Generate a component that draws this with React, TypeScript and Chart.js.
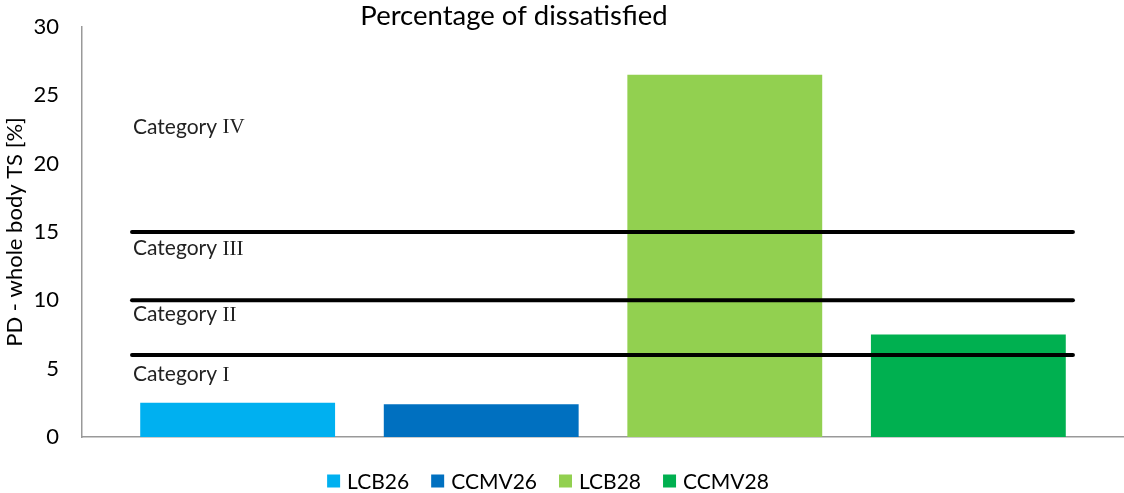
import React, { useEffect, useRef } from "react";
import { Chart, registerables } from "chart.js";

Chart.register(...registerables);

const categories = [""];
const seriesNames = ["LCB26", "CCMV26", "LCB28", "CCMV28"];
const seriesValues = [2.5, 2.4, 26.5, 7.5];
const seriesColors = ["#00B0F0", "#0070C0", "#92D050", "#00B050"];
const thresholdValues = [6, 10, 15];
const categoryWords = ["Category", "Category", "Category", "Category"];
const categoryNumerals = ["I", "II", "III", "IV"];
const categoryLabelValues = [4.6, 9.0, 13.8, 22.7];
const yTicks = [0, 5, 10, 15, 20, 25, 30];

const FONT = "Lato, 'Open Sans', sans-serif";
const SERIF = "'Liberation Serif', 'DejaVu Serif', serif";

const overlayPlugin = {
  id: "overlay",
  afterDatasetsDraw(chart: any) {
    const { ctx, chartArea, scales } = chart;
    const y = scales.y;
    const w = chartArea.right - chartArea.left;
    const x0 = chartArea.left + w * 0.048;
    const x1 = chartArea.left + w * 0.951;
    ctx.save();
    ctx.strokeStyle = "#000";
    ctx.lineWidth = 4;
    ctx.lineCap = "round";
    thresholdValues.forEach((v) => {
      const py = y.getPixelForValue(v);
      ctx.beginPath();
      ctx.moveTo(x0, py);
      ctx.lineTo(x1, py);
      ctx.stroke();
    });
    ctx.fillStyle = "#222";
    ctx.textAlign = "left";
    ctx.textBaseline = "middle";
    categoryWords.forEach((t, i) => {
      const py = y.getPixelForValue(categoryLabelValues[i]);
      ctx.font = `21px ${FONT}`;
      const word = t + " ";
      ctx.fillText(word, x0 + 1, py);
      const ww = ctx.measureText(word).width;
      ctx.font = `21px ${SERIF}`;
      ctx.fillText(categoryNumerals[i], x0 + 1 + ww, py + 1);
    });
    // title
    ctx.font = `27.5px ${FONT}`;
    ctx.textAlign = "center";
    ctx.fillStyle = "#000";
    ctx.fillText("Percentage of dissatisfied", 514, 16);

    // legend
    const box = 13;
    const gapBoxText = 7;
    const gapItems = 22;
    ctx.font = `21px ${FONT}`;
    ctx.textAlign = "left";
    const widths = seriesNames.map((n) => box + gapBoxText + ctx.measureText(n).width);
    const total = widths.reduce((a, b) => a + b, 0) + gapItems * (seriesNames.length - 1);
    let lx = 548 - total / 2;
    const ly = 481;
    seriesNames.forEach((n, i) => {
      ctx.fillStyle = seriesColors[i];
      ctx.fillRect(lx, ly - box / 2, box, box);
      ctx.fillStyle = "#000";
      ctx.fillText(n, lx + box + gapBoxText, ly + 1);
      lx += widths[i] + gapItems;
    });
    ctx.restore();
  },
};

export default function App() {
  const ref = useRef<HTMLCanvasElement | null>(null);
  useEffect(() => {
    if (!ref.current) return;
    const chart = new Chart(ref.current, {
      type: "bar",
      data: {
        labels: categories,
        datasets: seriesNames.map((n, i) => ({
          label: n,
          data: [seriesValues[i]],
          backgroundColor: seriesColors[i],
          borderWidth: 0,
          barPercentage: 0.8,
          categoryPercentage: 0.935,
        })),
      },
      options: {
        animation: false,
        responsive: true,
        maintainAspectRatio: false,
        layout: { padding: { top: 27, right: 0, left: 0, bottom: 56 } },
        plugins: {
          tooltip: { enabled: false },
          title: { display: false },
          legend: { display: false },
        },
        scales: {
          x: {
            grid: { display: false },
            border: { display: true, color: "#999", width: 1.5 },
            ticks: { display: false },
            afterFit: (axis: any) => {
              axis.height = 0;
            },
          },
          y: {
            min: 0,
            max: 30,
            afterBuildTicks: (axis: any) => {
              axis.ticks = yTicks.map((v) => ({ value: v }));
            },
            afterFit: (axis: any) => {
              axis.width = 82;
              axis.paddingTop = 10;
              axis.paddingBottom = 10;
            },
            grid: { display: false, drawTicks: false },
            border: { display: true, color: "#999", width: 1.5 },
            ticks: {
              color: "#000",
              padding: 23,
              font: { family: FONT, size: 22 },
            },
            title: {
              display: true,
              text: "PD - whole body TS [%]",
              color: "#000",
              font: { family: FONT, size: 22 },
              padding: { top: 2, bottom: 4 },
            },
          },
        },
      },
      plugins: [overlayPlugin],
    });
    return () => chart.destroy();
  }, []);
  return (
    <div style={{ position: "fixed", left: 0, top: 0, width: 1124, height: 493, background: "#fff" }}>
      <canvas ref={ref} />
    </div>
  );
}
